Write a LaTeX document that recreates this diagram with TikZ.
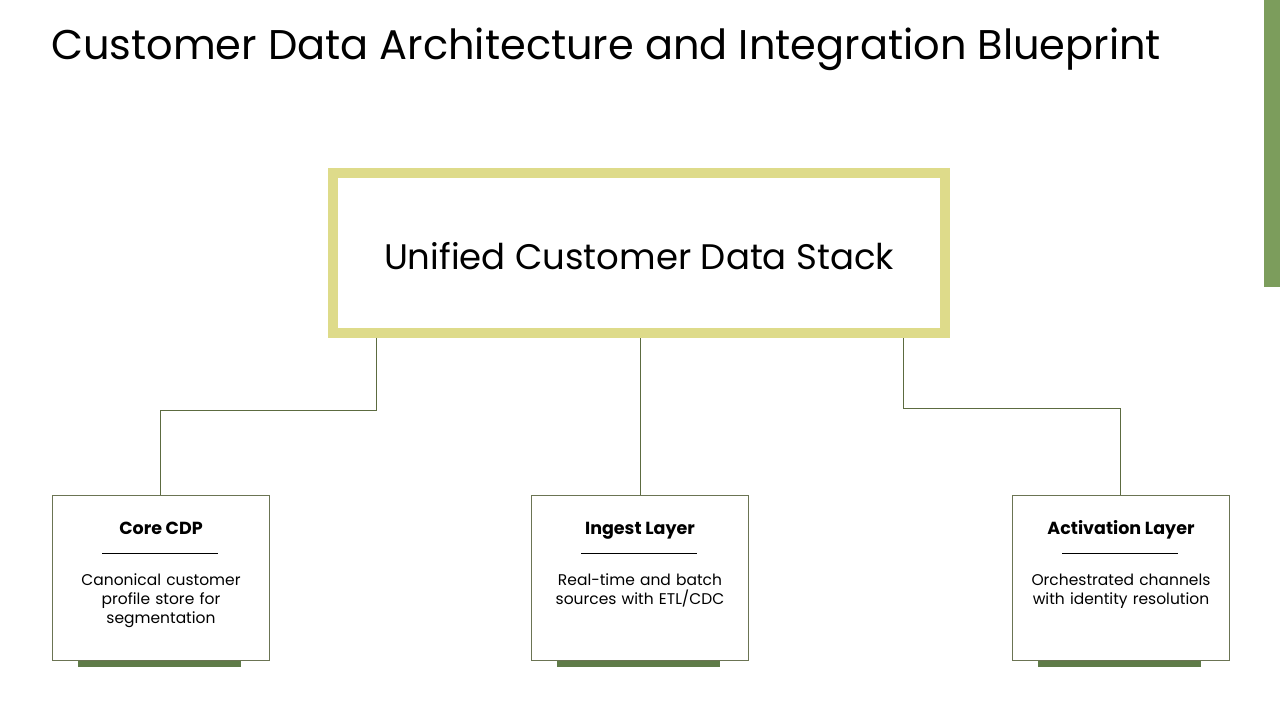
\documentclass[tikz,border=0pt]{standalone}
\usepackage{fontspec}
\setmainfont{Poppins}
\definecolor{stackedge}{HTML}{DEDB8A}
\definecolor{wireclr}{HTML}{5C6B40}
\definecolor{boxedge}{HTML}{6B7453}
\definecolor{barclr}{HTML}{5F7B48}
\definecolor{sidebar}{HTML}{7C9D5C}
\begin{document}
\begin{tikzpicture}[x=1pt,y=-1pt,
  wire/.style={draw=wireclr,line width=1pt},
  cardbox/.style={draw=boxedge,line width=1pt,fill=white},
  cardtitle/.style={font=\fontsize{17.5}{20}\selectfont\bfseries,anchor=base,inner sep=0pt},
  cardbody/.style={font=\fontsize{15.5}{19}\selectfont,align=center,anchor=base,inner sep=0pt,text width=210pt},
  footbar/.style={fill=barclr,draw=none}]
\useasboundingbox (0,0) rectangle (1280,720);
\fill[white] (0,0) rectangle (1280,720);
\fill[sidebar] (1264,0) rectangle (1280,287);
\node[anchor=base west,font=\fontsize{41.5}{46}\selectfont,inner sep=0pt] (title) at (51,59) {Customer Data Architecture and Integration Blueprint};
% main box
\node[draw=stackedge,line width=10pt,minimum width=612pt,minimum height=160pt,inner sep=0pt] (stack) at (639,253) {};
\node[font=\fontsize{35.5}{40}\selectfont,anchor=base,inner sep=0pt] (stackt) at (639,269) {Unified Customer Data Stack};
% cards
\foreach \n/\x in {core/52,ingest/531,act/1012}{
  \fill[barclr] (\x+26,656) rectangle (\x+189,667);
  \node[cardbox,minimum width=217pt,minimum height=165pt,anchor=north west,inner sep=0pt] (\n) at (\x,495) {};
  \draw[black,line width=1pt] (\x+50,553) -- (\x+166,553);
}
\node[cardtitle] (coret) at ([yshift=-39pt]core.north) {Core CDP};
\node[cardtitle] (ingestt) at ([yshift=-39pt]ingest.north) {Ingest Layer};
\node[cardtitle] (actt) at ([yshift=-39pt]act.north) {Activation Layer};
\node[cardbody] (coreb) at ([yshift=-90pt]core.north) {Canonical customer\\profile store for\\segmentation};
\node[cardbody] (ingestb) at ([yshift=-90pt]ingest.north) {Real-time and batch\\sources with ETL/CDC};
\node[cardbody] (actb) at ([yshift=-90pt]act.north) {Orchestrated channels\\with identity resolution};
% connectors
\coordinate (lsrc) at (376,338);
\coordinate (rsrc) at (903,338);
\draw[wire] (lsrc) |- (160,410) -- (core.north -| 160,0);
\draw[wire] (stack.south -| ingest.north) -- (ingest.north);
\draw[wire] (rsrc) |- (1120,408) -- (act.north -| 1120,0);
\end{tikzpicture}
\end{document}
